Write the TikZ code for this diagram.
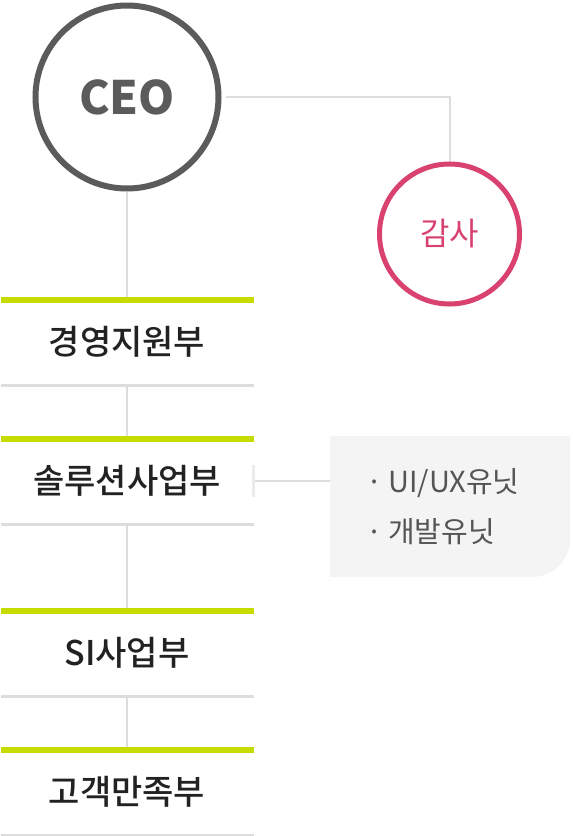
\documentclass[tikz,border=0pt]{standalone}
\usepackage{fontspec}
\setmainfont{Noto Sans CJK KR}
\newfontfamily\medfont{Noto Sans CJK KR Medium}
\usepackage{xcolor}
\usetikzlibrary{positioning,backgrounds}
\definecolor{ceogray}{HTML}{5B5B5B}
\definecolor{auditpink}{HTML}{D9416F}
\definecolor{barlime}{HTML}{C6DB00}
\definecolor{rulegray}{HTML}{DDDDDD}
\definecolor{tickgray}{HTML}{EBEBEB}
\definecolor{unitbg}{HTML}{F4F4F4}
\definecolor{inkdark}{HTML}{222222}
\definecolor{unitink}{HTML}{555555}
\tikzset{
  ceocircle/.style={circle,draw=ceogray,line width=6pt,minimum size=183pt,inner sep=0pt,
                    font=\fontsize{46}{56}\selectfont\bfseries,text=ceogray},
  auditcircle/.style={circle,draw=auditpink,line width=5pt,minimum size=140pt,inner sep=0pt,
                      font=\fontsize{32}{38}\selectfont,text=auditpink},
  deptbox/.style={minimum width=253pt,minimum height=90pt,inner sep=0pt,outer sep=0pt,
                  font=\fontsize{34}{40}\selectfont\medfont,text=inkdark},
  unitbox/.style={minimum width=240pt,minimum height=141pt,inner xsep=36pt,inner ysep=0pt,
                  text width=168pt,align=left,outer sep=0pt,
                  font=\fontsize{29}{50}\selectfont,text=unitink},
  link/.style={draw=rulegray,line width=2pt},
  limebar/.style={fill=barlime},
  footrule/.style={fill=rulegray},
  tickmark/.style={draw=tickgray,line width=3.5pt}
}

\begin{document}
\begin{tikzpicture}[x=1pt,y=-1pt]
  \useasboundingbox (0,0) rectangle (573,836);
  \node[ceocircle] (ceo) at (127,97) {CEO};
  \node[auditcircle] (audit) at (449.5,234) {감사};
  \foreach \name/\ypos/\label in {d1/342/경영지원부,d2/481/솔루션사업부,d3/653/SI사업부,d4/791.5/고객만족부} {
    \node[deptbox] (\name) at (127,\ypos) {\label};
    \fill[limebar] (\name.north west) rectangle ++(253,6);
    \fill[footrule] (\name.south west) rectangle ++(253,-3);
  }
  \node[unitbox] (units) at (450,506.5) {·\kern6pt UI/UX유닛\\·\kern6pt 개발유닛};
  \draw[tickmark] ([yshift=16pt]d2.east) -- ([yshift=-16pt]d2.east);
  \begin{scope}[on background layer]
    \fill[unitbg] (units.north west) -- (units.north east) -- ([yshift=38pt]units.south east)
      arc[start angle=0,end angle=90,radius=38] -- (units.south west) -- cycle;
    \draw[link] ([xshift=4pt]ceo.east) -| (audit.north);
    \draw[link] (ceo) -- (d1);
    \draw[link] (d1) -- (d2);
    \draw[link] (d2) -- (d3);
    \draw[link] (d3) -- (d4);
    \draw[link] (d2.east) -- (d2.east -| units.west);
  \end{scope}
\end{tikzpicture}
\end{document}
